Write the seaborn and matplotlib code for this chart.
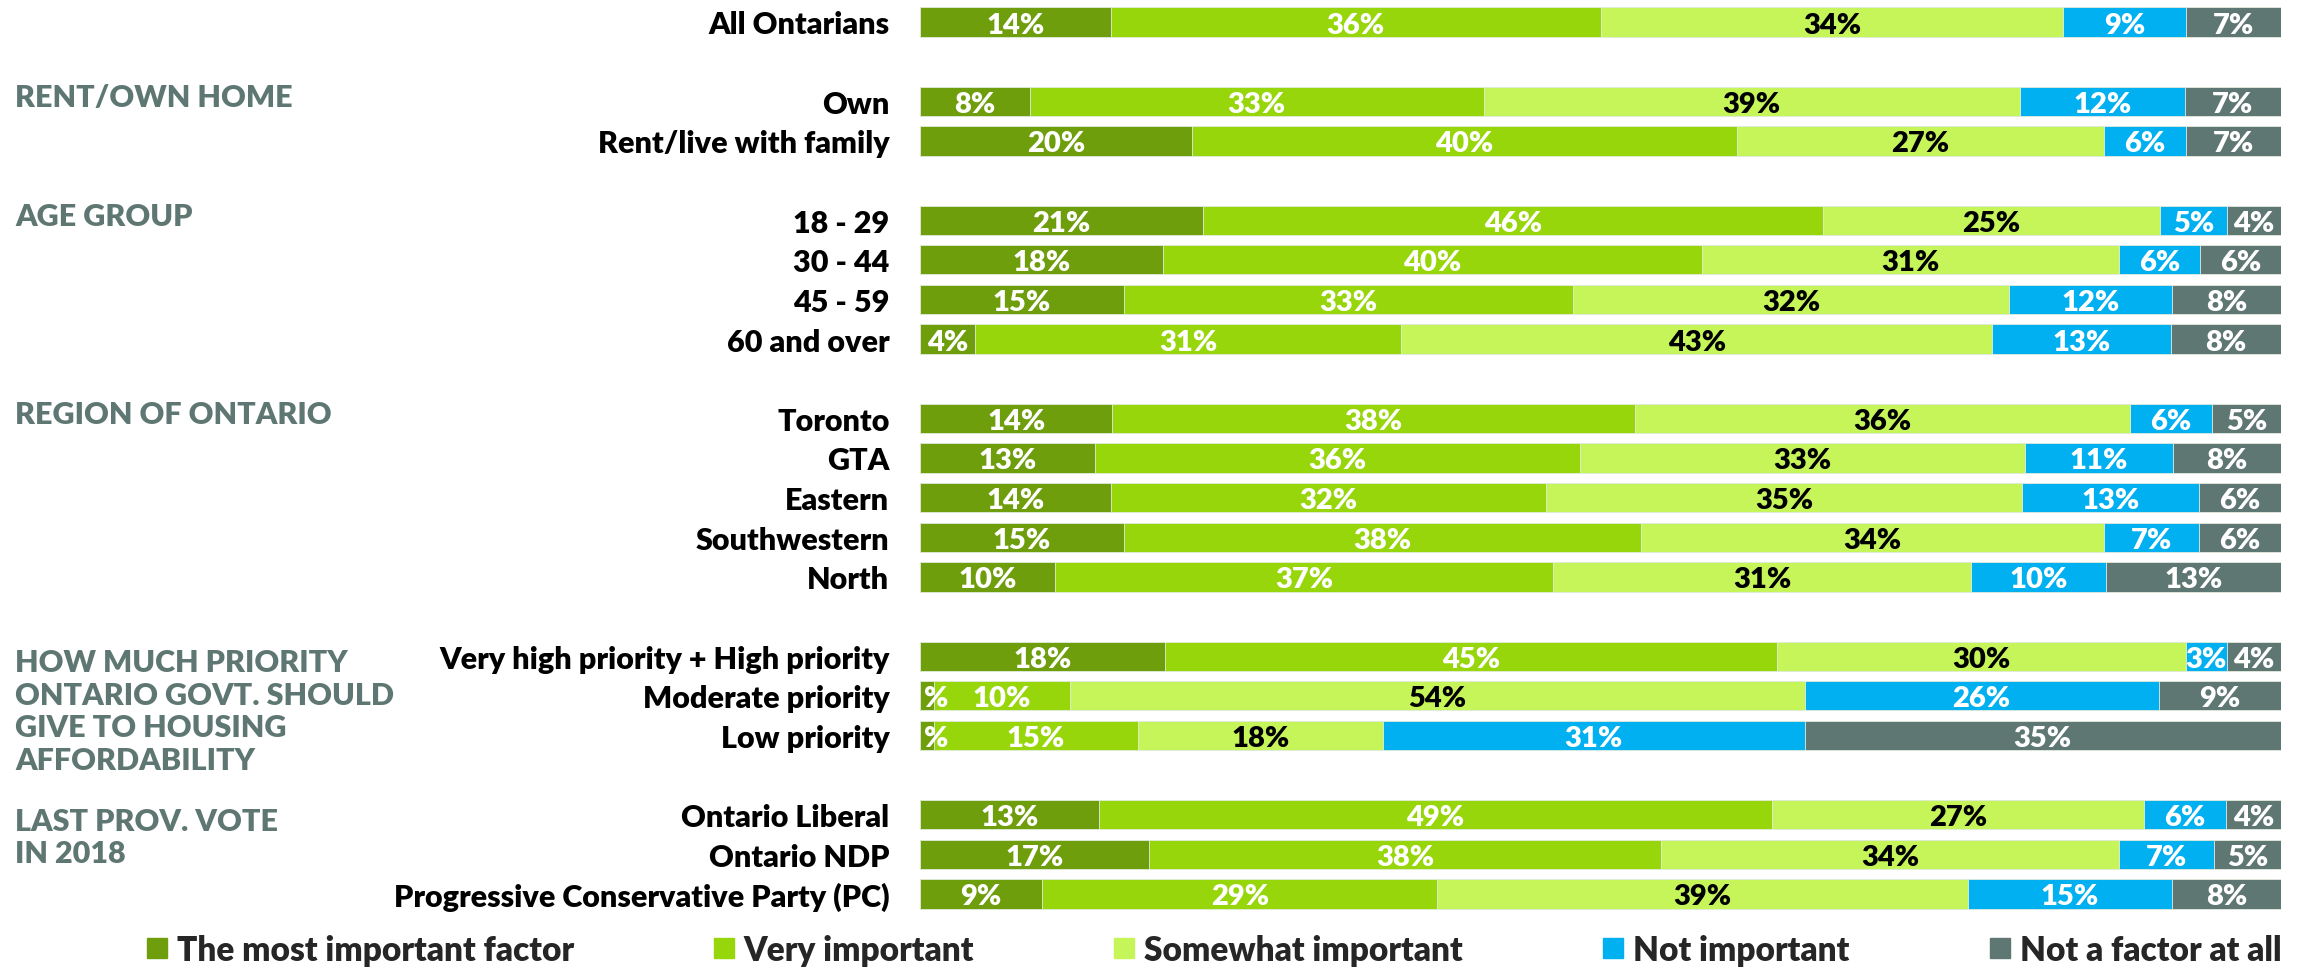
import numpy as np
import pandas as pd
import matplotlib
matplotlib.use("Agg")
import matplotlib.pyplot as plt
import seaborn as sns
from matplotlib.lines import Line2D
from matplotlib.transforms import blended_transform_factory

# ---------------- data ----------------
categories = ["All Ontarians", "Own", "Rent/live with family",
              "18 - 29", "30 - 44", "45 - 59", "60 and over",
              "Toronto", "GTA", "Eastern", "Southwestern", "North",
              "Very high priority + High priority", "Moderate priority", "Low priority",
              "Ontario Liberal", "Ontario NDP", "Progressive Conservative Party (PC)"]
series_names = ["The most important factor", "Very important", "Somewhat important",
                "Not important", "Not a factor at all"]
most_important = [14, 8, 20, 21, 18, 15, 4, 14, 13, 14, 15, 10, 18, 1, 1, 13, 17, 9]
very_important = [36, 33, 40, 46, 40, 33, 31, 38, 36, 32, 38, 37, 45, 10, 15, 49, 38, 29]
somewhat_important = [34, 39, 27, 25, 31, 32, 43, 36, 33, 35, 34, 31, 30, 54, 18, 27, 34, 39]
not_important = [9, 12, 6, 5, 6, 12, 13, 6, 11, 13, 7, 10, 3, 26, 31, 6, 7, 15]
not_a_factor = [7, 7, 7, 4, 6, 8, 8, 5, 8, 6, 6, 13, 4, 9, 35, 4, 5, 8]

group_headers = ["RENT/OWN HOME", "AGE GROUP", "REGION OF ONTARIO",
                 "HOW MUCH PRIORITY\nONTARIO GOVT. SHOULD\nGIVE TO HOUSING\nAFFORDABILITY",
                 "LAST PROV. VOTE\nIN 2018"]
group_first_rows = ["Own", "18 - 29", "Toronto", "Very high priority + High priority",
                    "Ontario Liberal"]

# row order with blank spacer rows between groups
order = ["All Ontarians", " ", "Own", "Rent/live with family", "  ",
         "18 - 29", "30 - 44", "45 - 59", "60 and over", "   ",
         "Toronto", "GTA", "Eastern", "Southwestern", "North", "    ",
         "Very high priority + High priority", "Moderate priority", "Low priority", "     ",
         "Ontario Liberal", "Ontario NDP", "Progressive Conservative Party (PC)"]

colors = ["#6f9e0c", "#97d60a", "#c6f55a", "#00b0f0", "#5f7773"]
text_colors = ["white", "white", "black", "white", "white"]
header_color = "#5f7773"

# ---------------- styling ----------------
sns.set_style("white")
plt.rcParams["font.family"] = ["Lato", "DejaVu Sans"]
WEIGHT = "heavy"

W, H = 2297, 970
fig = plt.figure(figsize=(W / 100, H / 100), dpi=100)
left_px, right_px = 920, 2281
row0_px, rowN_px = 23, 895
step = (rowN_px - row0_px) / (len(order) - 1)
top_px = row0_px - step / 2
bot_px = rowN_px + step / 2
ax = fig.add_axes([left_px / W, 1 - bot_px / H, (right_px - left_px) / W, (bot_px - top_px) / H])

vals = np.array([most_important, very_important, somewhat_important,
                 not_important, not_a_factor], dtype=float)
totals = vals.sum(axis=0)
shares = vals / totals * 100
cum = np.cumsum(shares, axis=0)

df = pd.DataFrame({"category": categories})
for k in range(5):
    df[f"cum{k}"] = cum[k]

# draw stacked bars: widest cumulative first, then overlay
for k in range(4, -1, -1):
    sns.barplot(data=df, x=f"cum{k}", y="category", order=order, orient="h",
                color=colors[k], saturation=1, width=0.74, errorbar=None,
                edgecolor="#e4ece0", linewidth=0.6, ax=ax)

# value labels
for i, cat in enumerate(categories):
    pos = order.index(cat)
    for k in range(5):
        v = vals[k, i]
        start = cum[k, i] - shares[k, i]
        end = cum[k, i]
        if v < 2:
            ax.text(start + 0.3, pos, "%", ha="left", va="center_baseline",
                    color=text_colors[k], fontsize=21, fontweight=WEIGHT)
        else:
            ax.text((start + end) / 2, pos, f"{int(v)}%", ha="center", va="center_baseline",
                    color=text_colors[k], fontsize=21, fontweight=WEIGHT)

ax.set_xlim(0, 100)
ax.set_ylim(len(order) - 0.5, -0.5)
ax.set_xlabel("")
ax.set_ylabel("")
ax.set_xticks([])
ax.set_yticks(range(len(order)), labels=order)
for lbl in ax.get_yticklabels():
    lbl.set_fontsize(22)
    lbl.set_fontweight(WEIGHT)
    lbl.set_color("black")
ax.tick_params(axis="y", length=0, pad=22)
for s in ax.spines.values():
    s.set_visible(False)

# group headers
trans = blended_transform_factory(fig.transFigure, ax.transData)
for head, first in zip(group_headers, group_first_rows):
    pos = order.index(first)
    if "\n" in head:
        ax.text(15 / W, pos - 0.2, head, transform=trans, ha="left", va="top",
                color=header_color, fontsize=22, fontweight=WEIGHT, linespacing=1.2)
    else:
        ax.text(15 / W, pos - 0.1, head, transform=trans, ha="left", va="center",
                color=header_color, fontsize=22, fontweight=WEIGHT)

# legend
handles = [Line2D([], [], marker="s", linestyle="", markersize=14, color=c) for c in colors]
fig.legend(handles, series_names, loc="center", bbox_to_anchor=(0.5285, 0.02), ncol=5,
           frameon=False, prop={"family": "Lato", "weight": WEIGHT, "size": 24},
           handlelength=0.6, handletextpad=0.3, columnspacing=4.2, borderaxespad=0)

fig.savefig("out.png", dpi=100)
